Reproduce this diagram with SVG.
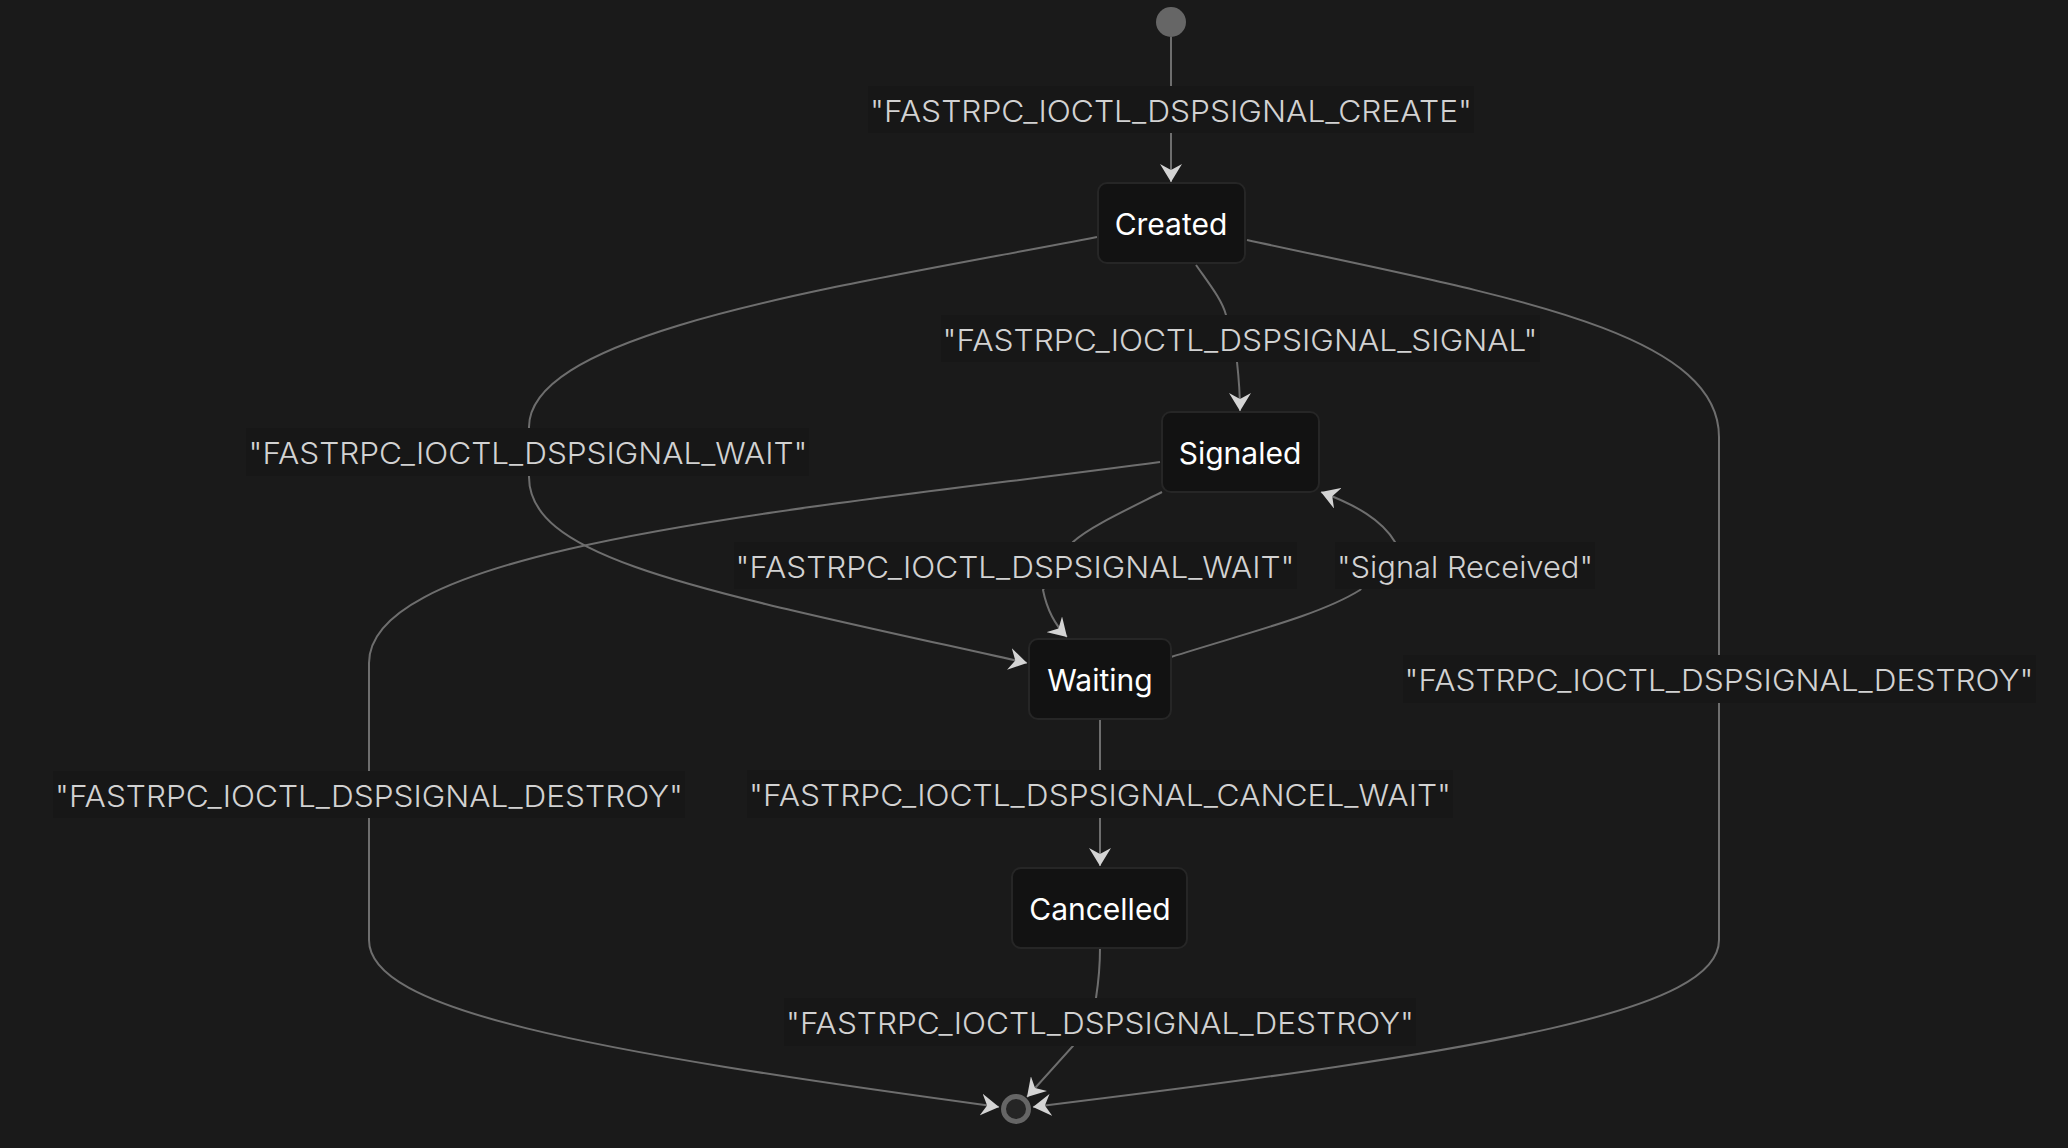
<svg xmlns="http://www.w3.org/2000/svg" width="2068" height="1148" viewBox="0 0 2068 1148">
<defs>
<marker id="arrow" markerUnits="userSpaceOnUse" viewBox="0 0 18 22" refX="18" refY="11" markerWidth="18" markerHeight="22" orient="auto">
<path d="M0,0 L18,11 L0,22 L6,11 Z" fill="#d4d4d4"/>
</marker>
<style>
.edge{fill:none;stroke:#6e6e6e;stroke-width:2;marker-end:url(#arrow)}
.node rect{fill:#121212;stroke:#262626;stroke-width:2}
.ntext{font-family:Inter,"Noto Sans",sans-serif;font-size:30px;fill:#ffffff;text-anchor:middle}
.lbg{fill:#171717}
.ltext{font-family:Inter,"Noto Sans",sans-serif;font-size:30px;font-weight:300;fill:#d2d2d2;text-anchor:middle}
</style>
</defs>
<rect width="2068" height="1148" fill="#1a1a1a"/>
<g id="connectors">
<path class="edge" d="M1171,37 L1171,182"/>
<path class="edge" d="M1196,265 C1210,285 1222,300 1226,315 L1237,362 C1239,380 1240,395 1240,411"/>
<path class="edge" d="M1097,237 C850,285 529,330 529,427 L529,477 C529,560 700,590 1027,663"/>
<path class="edge" d="M1247,240 C1500,295 1719,330 1719,437 L1719,940 C1719,1010 1500,1050 1033,1107"/>
<path class="edge" d="M1160,462 C800,510 369,545 369,663 L369,940 C369,1010 580,1050 999,1107"/>
<path class="edge" d="M1162,492 C1120,513 1088,528 1073,542 L1043,590 C1047,610 1056,626 1067,637"/>
<path class="edge" d="M1171,657 C1250,632 1320,615 1360,590 L1395,542 C1382,520 1356,505 1321,492"/>
<path class="edge" d="M1100,719 L1100,866"/>
<path class="edge" d="M1100,948 C1100,970 1098,985 1096,998 L1073,1046 L1027,1097"/>
</g>
<g id="edge-labels">
<g id="label-create"><rect class="lbg" x="868" y="86" width="606" height="47"/><text class="ltext" x="1171" y="122" textLength="602" lengthAdjust="spacingAndGlyphs">"FASTRPC_IOCTL_DSPSIGNAL_CREATE"</text></g>
<g id="label-signal"><rect class="lbg" x="941" y="315" width="599" height="47"/><text class="ltext" x="1240" y="351" textLength="595" lengthAdjust="spacingAndGlyphs">"FASTRPC_IOCTL_DSPSIGNAL_SIGNAL"</text></g>
<g id="label-wait-left"><rect class="lbg" x="246" y="428" width="563" height="48"/><text class="ltext" x="528" y="464" textLength="559" lengthAdjust="spacingAndGlyphs">"FASTRPC_IOCTL_DSPSIGNAL_WAIT"</text></g>
<g id="label-wait-mid"><rect class="lbg" x="734" y="542" width="563" height="47"/><text class="ltext" x="1015" y="578" textLength="559" lengthAdjust="spacingAndGlyphs">"FASTRPC_IOCTL_DSPSIGNAL_WAIT"</text></g>
<g id="label-received"><rect class="lbg" x="1335" y="542" width="260" height="47"/><text class="ltext" x="1465" y="578" textLength="256" lengthAdjust="spacingAndGlyphs">"Signal Received"</text></g>
<g id="label-destroy-right"><rect class="lbg" x="1403" y="655" width="633" height="48"/><text class="ltext" x="1719" y="691" textLength="629" lengthAdjust="spacingAndGlyphs">"FASTRPC_IOCTL_DSPSIGNAL_DESTROY"</text></g>
<g id="label-destroy-left"><rect class="lbg" x="53" y="771" width="632" height="47"/><text class="ltext" x="369" y="807" textLength="628" lengthAdjust="spacingAndGlyphs">"FASTRPC_IOCTL_DSPSIGNAL_DESTROY"</text></g>
<g id="label-cancel"><rect class="lbg" x="747" y="770" width="706" height="48"/><text class="ltext" x="1100" y="806" textLength="702" lengthAdjust="spacingAndGlyphs">"FASTRPC_IOCTL_DSPSIGNAL_CANCEL_WAIT"</text></g>
<g id="label-destroy-bottom"><rect class="lbg" x="784" y="998" width="632" height="48"/><text class="ltext" x="1100" y="1034" textLength="628" lengthAdjust="spacingAndGlyphs">"FASTRPC_IOCTL_DSPSIGNAL_DESTROY"</text></g>
</g>
<g id="start"><circle cx="1171" cy="22" r="15" fill="#666666"/></g>
<g id="created" class="node"><rect x="1098" y="183" width="147" height="80" rx="9"/><text class="ntext" x="1171" y="235">Created</text></g>
<g id="signaled" class="node"><rect x="1162" y="412" width="157" height="80" rx="9"/><text class="ntext" x="1240" y="464">Signaled</text></g>
<g id="waiting" class="node"><rect x="1029" y="639" width="142" height="80" rx="9"/><text class="ntext" x="1100" y="691">Waiting</text></g>
<g id="cancelled" class="node"><rect x="1012" y="868" width="175" height="80" rx="9"/><text class="ntext" x="1100" y="920">Cancelled</text></g>
<g id="end"><circle cx="1016" cy="1109" r="12.5" fill="#252525" stroke="#666666" stroke-width="5"/></g>
</svg>
